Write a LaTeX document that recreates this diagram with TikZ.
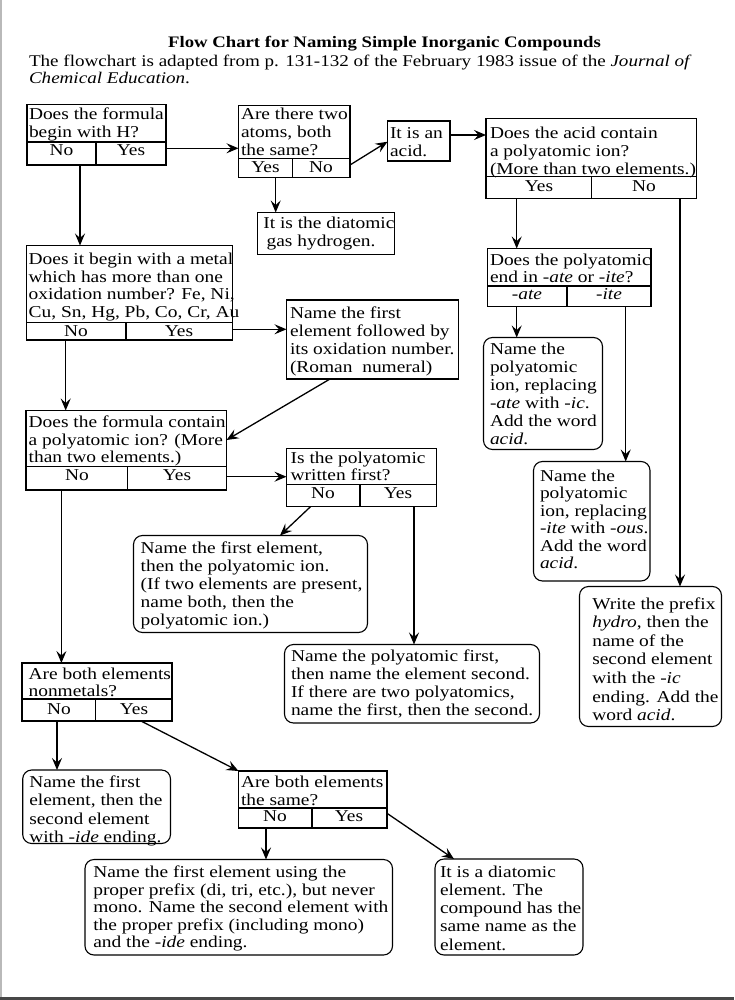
\documentclass[tikz,border=0pt]{standalone}
\usepackage{fontspec}
\setmainfont[FakeStretch=1.17]{Liberation Serif}
\usetikzlibrary{arrows.meta}
\newcommand\fst{\rule{0pt}{12pt}}
\newcommand\decdiv[3]{%
  \draw[divl] ([yshift=#2pt]#1.south west) -- ([yshift=#2pt]#1.south east);
  \draw[divl] ([xshift=#3pt]#1.south west) -- ([xshift=#3pt,yshift=#2pt]#1.south west);}
\begin{document}
\begin{tikzpicture}[x=1pt,y=-1pt,
  arr/.style={line width=1.3pt,-{Stealth[length=12pt,width=10pt,inset=4.5pt]}},
  divl/.style={line width=1.1pt},
  qbox/.style n args={2}{draw,line width=1.1pt,rectangle,inner sep=0pt,outer sep=0pt,minimum width=#1,minimum height=#2},
  rbox/.style n args={2}{qbox={#1}{#2},rounded corners=9pt},
  txt/.style={anchor=north west,inner sep=0pt,outer sep=0pt,align=left,font=\fontsize{16.6}{18}\selectfont},
  lab/.style={anchor=base,inner sep=0pt,outer sep=0pt,font=\fontsize{16.6}{18}\selectfont},
]
\useasboundingbox (0,0) rectangle (734,1000);
\fill[white] (0,0) rectangle (734,1000);
\fill[gray!55] (0,0) rectangle (2,997);
\fill[black!72] (0,997) rectangle (734,1000);

% title
\node[anchor=base west,inner sep=0pt,font=\fontsize{16}{18}\selectfont\bfseries] (title) at (168,47.3) {Flow Chart for Naming Simple Inorganic Compounds};
\node[txt,font=\fontsize{16.3}{16.7}\selectfont] (sub) at (29,54.7) {\fst The flowchart is adapted from p. 131-132 of the February 1983 issue of the \textit{Journal of}\\\textit{Chemical Education}.};

% boxes
\node[qbox={139pt}{60.5pt}] (A) at (96.5,134.75) {};
\node[qbox={111.5pt}{72pt}] (B) at (294.25,141.5) {};
\node[qbox={62.5pt}{40pt}] (C) at (418.75,141) {};
\node[qbox={137pt}{42pt}] (D) at (326,233.5) {};
\node[qbox={210.5pt}{80pt}] (F) at (591.25,158.5) {};
\node[qbox={163.5pt}{58pt}] (G) at (569.25,277.5) {};
\node[qbox={206pt}{94.5pt}] (E) at (129.5,292.75) {};
\node[qbox={172pt}{79pt}] (K) at (372.5,339.5) {};
\node[qbox={200.5pt}{79.5pt}] (L) at (126.25,450.25) {};
\node[qbox={150pt}{58pt}] (M) at (361.5,477.5) {};
\node[rbox={234pt}{97pt}] (N) at (250.5,584) {};
\node[rbox={255pt}{78.5pt}] (O) at (412,683.75) {};
\node[rbox={119pt}{112pt}] (I) at (543,393.5) {};
\node[rbox={116.5pt}{119.5pt}] (J) at (591.75,521.25) {};
\node[rbox={142pt}{140pt}] (H) at (650.5,656.5) {};
\node[qbox={150pt}{58pt}] (P) at (97,692) {};
\node[rbox={147.8pt}{73.5pt}] (Q) at (96.6,806.75) {};
\node[qbox={148.5pt}{57pt}] (R) at (312.75,799.5) {};
\node[rbox={307.5pt}{95.5pt}] (S) at (238.75,907.25) {};
\node[rbox={148pt}{96pt}] (T) at (509,907) {};

% dividers
\decdiv{A}{23}{69}
\decdiv{B}{19}{54}
\decdiv{F}{22}{105.5}
\decdiv{G}{20.5}{79.5}
\decdiv{E}{17.5}{99.5}
\decdiv{L}{23.5}{101.5}
\decdiv{M}{22}{73.5}
\decdiv{P}{22}{73.7}
\decdiv{R}{20}{73.5}

% texts
\node[txt,font=\fontsize{16.6}{17.8}\selectfont] (At) at (29,108) {\fst Does the formula\\begin with H?};
\node[txt,font=\fontsize{16.6}{17.8}\selectfont] (Bt) at (241,108) {\fst Are there two\\atoms, both\\the same?};
\node[txt] (Ct) at (390,126.5) {\fst It is an\\acid.};
\node[txt] (Dt) at (263.3,216.5) {\fst It is the diatomic\\\hspace{3.3pt}gas hydrogen.};
\node[txt,font=\fontsize{16.6}{17.8}\selectfont] (Ft) at (490,126.5) {\fst Does the acid contain\\a polyatomic ion?\\(More than two elements.)};
\node[txt,font=\fontsize{16.6}{17.8}\selectfont] (Gt) at (490,253) {\fst Does the polyatomic\\end in \textit{-ate} or \textit{-ite}?};
\node[txt,font=\fontsize{16.6}{17.7}\selectfont] (Et) at (28.7,252.3) {\fst Does it begin with a metal\\which has more than one\\oxidation number? Fe, Ni,\\Cu, Sn, Hg, Pb, Co, Cr, Au};
\node[txt,font=\fontsize{16.6}{18.1}\selectfont] (Kt) at (290,306) {\fst Name the first\\element followed by\\its oxidation number.\\(Roman~~numeral)};
\node[txt,font=\fontsize{16.6}{17.5}\selectfont] (Lt) at (28.7,415.5) {\fst Does the formula contain\\a polyatomic ion? (More\\than two elements.)};
\node[txt,font=\fontsize{16.6}{17.7}\selectfont] (Mt) at (290.7,451) {\fst Is the polyatomic\\written first?};
\node[txt,font=\fontsize{16.6}{18.2}\selectfont] (Nt) at (140.7,541) {\fst Name the first element,\\then the polyatomic ion.\\(If two elements are present,\\name both, then the\\polyatomic ion.)};
\node[txt,font=\fontsize{16.6}{17.9}\selectfont] (Ot) at (291,649.5) {\fst Name the polyatomic first,\\then name the element second.\\If there are two polyatomics,\\name the first, then the second.};
\node[txt] (It) at (490,342) {\fst Name the\\polyatomic\\ion, replacing\\\textit{-ate} with \textit{-ic}.\\Add the word\\\textit{acid}.};
\node[txt,font=\fontsize{16.6}{17.5}\selectfont] (Jt) at (540,469) {\fst Name the\\polyatomic\\ion, replacing\\\textit{-ite} with \textit{-ous}.\\Add the word\\\textit{acid}.};
\node[txt,font=\fontsize{16.6}{18.6}\selectfont] (Ht) at (592.3,597) {\fst Write the prefix\\\textit{hydro}, then the\\name of the\\second element\\with the \textit{-ic}\\ending. Add the\\word \textit{acid}.};
\node[txt,font=\fontsize{16.6}{17.7}\selectfont] (Pt) at (28.6,667) {\fst Are both elements\\nonmetals?};
\node[txt,font=\fontsize{16.6}{18.3}\selectfont] (Qt) at (29.3,775.5) {\fst Name the first\\element, then the\\second element\\with \textit{-ide} ending.};
\node[txt,font=\fontsize{16.6}{17.7}\selectfont] (Rt) at (241,775.5) {\fst Are both elements\\the same?};
\node[txt,font=\fontsize{16.6}{17.5}\selectfont] (St) at (93.3,865.5) {\fst Name the first element using the\\proper prefix (di, tri, etc.), but never\\mono. Name the second element with\\the proper prefix (including mono)\\and the \textit{-ide} ending.};
\node[txt,font=\fontsize{16.6}{18.3}\selectfont] (Tt) at (440,865) {\fst It is a diatomic\\element. The\\compound has the\\same name as the\\element.};

% labels
\node[lab] (Ano) at (61.5,155.5) {No};
\node[lab] (Ayes) at (131,155.5) {Yes};
\node[lab] (Byes) at (265.5,173) {Yes};
\node[lab] (Bno) at (321,173) {No};
\node[lab] (Fyes) at (539,191.7) {Yes};
\node[lab] (Fno) at (644,191.7) {No};
\node[lab] (Gate) at (527,299.5) {\textit{-ate}};
\node[lab] (Gite) at (609,299.5) {\textit{-ite}};
\node[lab] (Eno) at (76,336.5) {No};
\node[lab] (Eyes) at (179,336.5) {Yes};
\node[lab] (Lno) at (77,480.3) {No};
\node[lab] (Lyes) at (177,480.3) {Yes};
\node[lab] (Mno) at (323,498.3) {No};
\node[lab] (Myes) at (398,498.3) {Yes};
\node[lab] (Pno) at (59,714.3) {No};
\node[lab] (Pyes) at (134,714.3) {Yes};
\node[lab] (Rno) at (275,821.7) {No};
\node[lab] (Ryes) at (349,821.7) {Yes};

% connectors
\coordinate (a1) at ([yshift=16.7pt]A.south east);
\draw[arr] (a1) -- (a1 -| B.west);
\draw[arr] ([yshift=12.5pt]B.south east) -- ([yshift=19.3pt]C.south west);
\coordinate (a3) at ([xshift=37.2pt]B.south west);
\draw[arr] (a3) -- (a3 |- D.north);
\coordinate (a4) at ([yshift=6pt]C.east);
\draw[arr] (a4) -- (a4 -| F.west);
\coordinate (a5) at ([xshift=53pt]A.south west);
\draw[arr] (a5) -- (a5 |- E.north);
\coordinate (a6) at ([xshift=30.7pt]F.south west);
\draw[arr] (a6) -- (a6 |- G.north);
\coordinate (a7) at ([xshift=194pt]F.south west);
\draw[arr] (a7) -- (a7 |- H.north);
\coordinate (a8) at ([xshift=29.2pt]G.south west);
\draw[arr] (a8) -- (a8 |- I.north);
\coordinate (a9) at ([xshift=138.2pt]G.south west);
\draw[arr] (a9) -- (a9 |- J.north);
\coordinate (a10) at ([yshift=10.7pt]E.south east);
\draw[arr] (a10) -- (a10 -| K.west);
\draw[arr] ([xshift=43.5pt]K.south west) -- ([yshift=50pt]L.south east);
\coordinate (a12) at ([xshift=39.2pt]E.south west);
\draw[arr] (a12) -- (a12 |- L.north);
\coordinate (a13) at ([yshift=13.3pt]L.south east);
\draw[arr] (a13) -- (a13 -| M.west);
\draw[arr] ([xshift=24.2pt]M.south west) -- ([xshift=146.5pt]N.north west);
\coordinate (a15) at ([xshift=127.5pt]M.south west);
\draw[arr] (a15) -- (a15 |- O.north);
\coordinate (a16) at ([xshift=35.4pt]L.south west);
\draw[arr] (a16) -- (a16 |- P.north);
\coordinate (a17) at ([xshift=35pt]P.south west);
\draw[arr] (a17) -- (a17 |- Q.north);
\draw[arr] ([xshift=119pt]P.south west) -- (R.north west);
\coordinate (a19) at ([xshift=27.5pt]R.south west);
\draw[arr] (a19) -- (a19 |- S.north);
\draw[arr] ([yshift=14.7pt]R.south east) -- ([xshift=19pt]T.north west);
\end{tikzpicture}
\end{document}
